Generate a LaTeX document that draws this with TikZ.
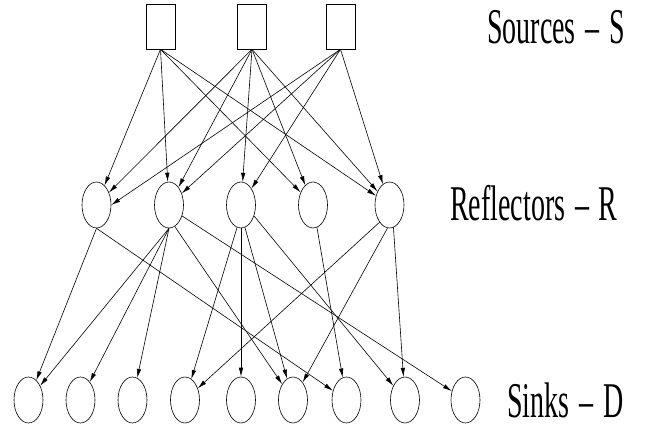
\documentclass[tikz,border=0pt]{standalone}
\usepackage{fontspec}
\setmainfont{Liberation Serif}
\usepackage{tikz}
\usetikzlibrary{shapes.geometric,arrows.meta}

\begin{document}
\begin{tikzpicture}[x=1pt,y=-1pt,line width=0.6pt,
  >={Latex[length=9pt,width=4.5pt]},
  srcbox/.style={draw,rectangle,inner sep=0pt,minimum width=29pt,minimum height=45pt},
  refl/.style={draw,ellipse,inner sep=0pt,minimum width=29pt,minimum height=46pt},
  sink/.style={draw,ellipse,inner sep=0pt,minimum width=29pt,minimum height=46pt},
  tier/.style={anchor=base west,inner sep=0pt,xscale=0.56,font=\fontsize{50}{50}\selectfont}]
\useasboundingbox (0,0) rectangle (646,431);

% sources
\node[srcbox] (S1) at (160.5,26.5) {};
\node[srcbox] (S2) at (252,26.5) {};
\node[srcbox] (S3) at (340.5,26.5) {};

% reflectors
\node[refl] (R1) at (96.5,205) {};
\node[refl] (R2) at (169,205) {};
\node[refl] (R3) at (241,205) {};
\node[refl] (R4) at (313,205) {};
\node[refl] (R5) at (389.5,205) {};

% sinks
\node[sink] (D1) at (28.5,400) {};
\node[sink] (D2) at (80.5,400) {};
\node[sink] (D3) at (132.5,400) {};
\node[sink] (D4) at (185,400) {};
\node[sink] (D5) at (241,400) {};
\node[sink] (D6) at (293,400) {};
\node[sink] (D7) at (346.5,400) {};
\node[sink] (D8) at (405,400) {};
\node[sink] (D9) at (465.5,400) {};

% labels
\node[tier] (lS) at (487,43) {Sources\hspace{0.1em} -- \hspace{0.1em}S};
\node[tier] (lR) at (450,220) {Reflectors\hspace{0.1em} -- \hspace{0.1em}R};
\node[tier] (lD) at (507,417) {Sinks\hspace{0.1em} -- \hspace{0.1em}D};

% sources to reflectors
\draw[->] (S1.south) -- (R1);
\draw[->] (S1.south) -- (R2);
\draw[->] (S1.south) -- (R4);
\draw[->] (S1.south) -- (R5);
\draw[->] (S2.south) -- (R1);
\draw[->] (S2.south) -- (R2);
\draw[->] (S2.south) -- (R3);
\draw[->] (S2.south) -- (R4);
\draw[->] (S2.south) -- (R5);
\draw[->] (S3.south) -- (R1.east);
\draw[->] (S3.south) -- (R2);
\draw[->] (S3.south) -- (R3);
\draw[->] (S3.south) -- (R5);

% reflectors to sinks
\draw[->] (R1.south) -- (D1);
\draw[->] (R1.south) -- (D7);
\draw[->] (R2.south) -- (D1);
\draw[->] (R2.south) -- (D2);
\draw[->] (R2.south) -- (D3);
\draw[->] (R2.-75) -- (D6);
\draw[->] (R2.-40) -- (D9);
\draw[->] (R3.-100) -- (D4);
\draw[->] (R3.south) -- (D5);
\draw[->] (R3.-80) -- (D6);
\draw[->] (R3.-40) -- (D8);
\draw[->] (R4.-80) -- (D7);
\draw[->] (R5.-120) -- (D4);
\draw[->] (R5.-95) -- (D6);
\draw[->] (R5.-80) -- (D8);

\end{tikzpicture}
\end{document}
